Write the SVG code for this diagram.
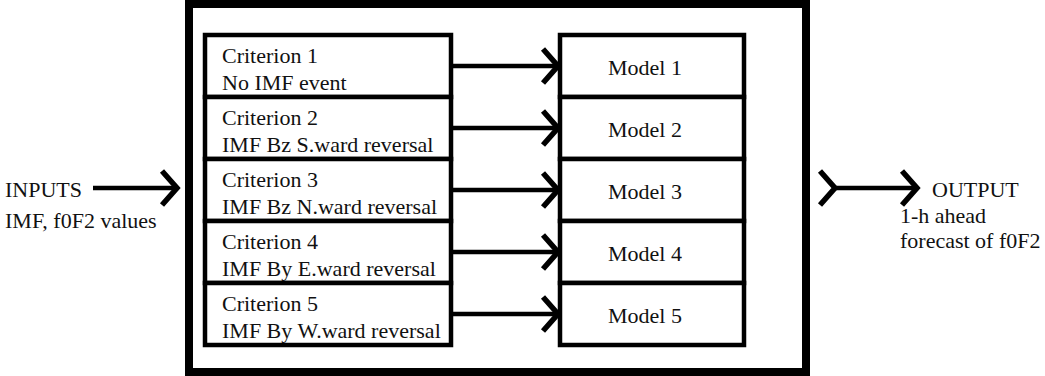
<svg xmlns="http://www.w3.org/2000/svg" width="1045" height="376" viewBox="0 0 1045 376">
  <style>
    .frame { fill: none; stroke: #000; stroke-width: 8; }
    .box { fill: #fff; stroke: #000; stroke-width: 4.5; }
    .lbl { font-family: "Liberation Serif", "Times New Roman", serif; font-size: 22px; fill: #111; }
    .mid { text-anchor: middle; }
    .wire { fill: none; stroke: #000; stroke-width: 4.5; }
  </style>
  <defs>
    <marker id="chev" markerUnits="userSpaceOnUse" markerWidth="30" markerHeight="44" viewBox="-24 -22 30 44" refX="0" refY="0" orient="auto">
      <path d="M-15,-17 L0,0 L-15,17" fill="none" stroke="#000" stroke-width="5.5" stroke-linejoin="miter" stroke-miterlimit="2"/>
    </marker>
  </defs>

  <rect width="1045" height="376" fill="#fff"/>

  <!-- enclosing system boundary -->
  <rect id="system" class="frame" x="189" y="4" width="617" height="368"/>

  <!-- inputs -->
  <g id="inputs">
    <text class="lbl" x="5" y="197">INPUTS</text>
    <text class="lbl" x="5" y="228">IMF, f0F2 values</text>
  </g>

  <!-- criteria column -->
  <g id="criterion1">
    <rect class="box" x="205" y="35" width="246" height="62"/>
    <text class="lbl" x="222" y="63">Criterion 1</text>
    <text class="lbl" x="222" y="90">No IMF event</text>
  </g>
  <g id="criterion2">
    <rect class="box" x="205" y="97" width="246" height="62"/>
    <text class="lbl" x="222" y="125">Criterion 2</text>
    <text class="lbl" x="222" y="152">IMF Bz S.ward reversal</text>
  </g>
  <g id="criterion3">
    <rect class="box" x="205" y="159" width="246" height="62"/>
    <text class="lbl" x="222" y="187">Criterion 3</text>
    <text class="lbl" x="222" y="214">IMF Bz N.ward reversal</text>
  </g>
  <g id="criterion4">
    <rect class="box" x="205" y="221" width="246" height="62"/>
    <text class="lbl" x="222" y="249">Criterion 4</text>
    <text class="lbl" x="222" y="276">IMF By E.ward reversal</text>
  </g>
  <g id="criterion5">
    <rect class="box" x="205" y="283" width="246" height="62"/>
    <text class="lbl" x="222" y="311">Criterion 5</text>
    <text class="lbl" x="222" y="338">IMF By W.ward reversal</text>
  </g>

  <!-- model column -->
  <g id="model1">
    <rect class="box" x="560" y="35" width="184" height="62"/>
    <text class="lbl mid" x="645" y="75">Model 1</text>
  </g>
  <g id="model2">
    <rect class="box" x="560" y="97" width="184" height="62"/>
    <text class="lbl mid" x="645" y="137">Model 2</text>
  </g>
  <g id="model3">
    <rect class="box" x="560" y="159" width="184" height="62"/>
    <text class="lbl mid" x="645" y="199">Model 3</text>
  </g>
  <g id="model4">
    <rect class="box" x="560" y="221" width="184" height="62"/>
    <text class="lbl mid" x="645" y="261">Model 4</text>
  </g>
  <g id="model5">
    <rect class="box" x="560" y="283" width="184" height="62"/>
    <text class="lbl mid" x="645" y="323">Model 5</text>
  </g>

  <!-- output -->
  <g id="output">
    <text class="lbl" x="932" y="197">OUTPUT</text>
    <text class="lbl" x="900" y="223">1-h ahead</text>
    <text class="lbl" x="900" y="248">forecast of f0F2</text>
  </g>

  <!-- connectors -->
  <g id="connectors">
    <path class="wire" d="M93,188 H177" marker-end="url(#chev)"/>
    <path class="wire" d="M451,66 H558" marker-end="url(#chev)"/>
    <path class="wire" d="M451,128 H558" marker-end="url(#chev)"/>
    <path class="wire" d="M451,190 H558" marker-end="url(#chev)"/>
    <path class="wire" d="M451,252 H558" marker-end="url(#chev)"/>
    <path class="wire" d="M451,314 H558" marker-end="url(#chev)"/>
    <path class="wire" d="M835,188 H917" marker-start="url(#chev)" marker-end="url(#chev)"/>
  </g>
</svg>
